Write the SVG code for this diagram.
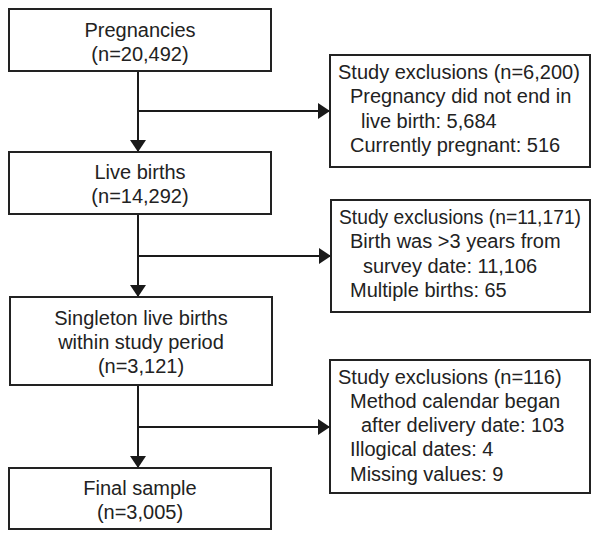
<svg xmlns="http://www.w3.org/2000/svg" width="600" height="539" viewBox="0 0 600 539">
<defs>
<marker id="ah" markerUnits="userSpaceOnUse" markerWidth="13" markerHeight="17" refX="12" refY="8" orient="auto">
<path d="M0,0 L12,8 L0,16 Z" fill="#1a1a1a"/>
</marker>
<style>
.box{fill:#fff;stroke:#222;stroke-width:2}
.t{font-family:"Liberation Sans",Arial,sans-serif;font-size:20px;fill:#222}
.c{text-anchor:middle}
.ln{stroke:#1a1a1a;stroke-width:2;fill:none}
</style>
</defs>
<rect width="600" height="539" fill="#fff"/>
<g id="connectors">
<line class="ln" x1="138" y1="71" x2="138" y2="152" marker-end="url(#ah)"/>
<line class="ln" x1="138" y1="111" x2="330" y2="111" marker-end="url(#ah)"/>
<line class="ln" x1="138" y1="214" x2="138" y2="297" marker-end="url(#ah)"/>
<line class="ln" x1="138" y1="256" x2="331" y2="256" marker-end="url(#ah)"/>
<line class="ln" x1="138" y1="385" x2="138" y2="468" marker-end="url(#ah)"/>
<line class="ln" x1="138" y1="427" x2="330" y2="427" marker-end="url(#ah)"/>
</g>
<g id="pregnancies">
<rect class="box" x="9" y="9" width="262" height="62"/>
<text class="t c" x="140" y="37">Pregnancies</text>
<text class="t c" x="140" y="61">(n=20,492)</text>
</g>
<g id="live-births">
<rect class="box" x="9" y="152" width="262" height="62"/>
<text class="t c" x="140" y="179">Live births</text>
<text class="t c" x="140" y="203">(n=14,292)</text>
</g>
<g id="singleton">
<rect class="box" x="10" y="297" width="262" height="88"/>
<text class="t c" x="141" y="325">Singleton live births</text>
<text class="t c" x="141" y="349">within study period</text>
<text class="t c" x="141" y="373">(n=3,121)</text>
</g>
<g id="final">
<rect class="box" x="9" y="468" width="262" height="61"/>
<text class="t c" x="140" y="495">Final sample</text>
<text class="t c" x="140" y="519">(n=3,005)</text>
</g>
<g id="excl1">
<rect class="box" x="330" y="55" width="260" height="112"/>
<text class="t" x="338" y="79">Study exclusions (n=6,200)</text>
<text class="t" x="350" y="103">Pregnancy did not end in</text>
<text class="t" x="361" y="128">live birth: 5,684</text>
<text class="t" x="350" y="152">Currently pregnant: 516</text>
</g>
<g id="excl2">
<rect class="box" x="331" y="200" width="259" height="112"/>
<text class="t" x="339" y="224" textLength="242" lengthAdjust="spacingAndGlyphs">Study exclusions (n=11,171)</text>
<text class="t" x="350" y="248">Birth was &gt;3 years from</text>
<text class="t" x="363" y="273">survey date: 11,106</text>
<text class="t" x="350" y="297">Multiple births: 65</text>
</g>
<g id="excl3">
<rect class="box" x="330" y="360" width="260" height="133"/>
<text class="t" x="338" y="384">Study exclusions (n=116)</text>
<text class="t" x="350" y="408">Method calendar began</text>
<text class="t" x="361" y="432">after delivery date: 103</text>
<text class="t" x="350" y="456">Illogical dates: 4</text>
<text class="t" x="350" y="481">Missing values: 9</text>
</g>
</svg>
